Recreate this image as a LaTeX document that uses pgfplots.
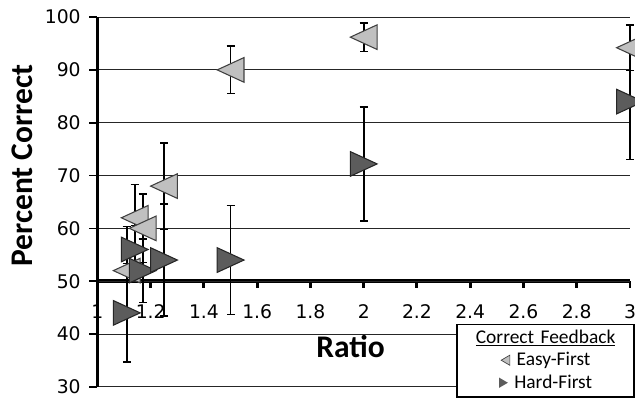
\documentclass[border=0pt]{standalone}
\usepackage{pgfplots}
\pgfplotsset{compat=1.18}
\usepackage{fontspec}
\setmainfont{Carlito}
\newfontfamily\dejavu{DejaVu Sans}
\newfontfamily\carlito{Carlito}
\definecolor{easyfill}{RGB}{192,192,192}
\definecolor{easydraw}{RGB}{64,64,64}
\definecolor{hardfill}{RGB}{92,92,92}
\definecolor{harddraw}{RGB}{38,38,38}
\pgfdeclareplotmark{ltri}{%
  \pgfpathmoveto{\pgfqpoint{-10pt}{0pt}}%
  \pgfpathlineto{\pgfqpoint{10pt}{9.2pt}}%
  \pgfpathlineto{\pgfqpoint{10pt}{-9.2pt}}%
  \pgfpathclose\pgfusepathqfillstroke}
\pgfdeclareplotmark{rtri}{%
  \pgfpathmoveto{\pgfqpoint{10pt}{0pt}}%
  \pgfpathlineto{\pgfqpoint{-10pt}{9.2pt}}%
  \pgfpathlineto{\pgfqpoint{-10pt}{-9.2pt}}%
  \pgfpathclose\pgfusepathqfillstroke}
\pgfplotstableread{
x y e
1.11 52 8.4
1.14 62 6.3
1.17 60 6.5
1.25 68 8.2
1.5 90 4.5
2 96.2 2.7
3 94.2 4.3
}\easy
\pgfplotstableread{
x y e
1.11 44 9.3
1.14 56 4.5
1.17 52 6
1.25 54 10.6
1.5 54 10.3
2 72.2 10.8
3 84 11
}\hard
\begin{document}
\begin{tikzpicture}
\useasboundingbox (-72.75pt,-9.75pt) rectangle (401.25pt,288.75pt);
\clip (-72.75pt,-9.75pt) rectangle (401.25pt,288.75pt);
% x axis drawn at y = 50
\begin{axis}[
  scale only axis, at={(0pt,78.857pt)}, anchor=south west,
  width=397.5pt, height=197.143pt,
  xmin=1, xmax=3, ymin=50, ymax=100,
  axis y line=none, axis x line*=bottom,
  x axis line style={line width=3pt, black},
  xtick={1,1.2,1.4,1.6,1.8,2,2.2,2.4,2.6,2.8,3},
  xticklabels={1,1.2,1.4,1.6,1.8,2,2.2,2.4,2.6,2.8,3},
  tick align=outside, major tick length=5pt,
  x tick style={line width=2.2pt, black},
  xticklabel style={font=\dejavu\fontsize{14}{16}\selectfont, yshift=-9pt},
  /pgf/number format/assume math mode=true,
]
\addplot[draw=none, forget plot] coordinates {(1,60)};
\end{axis}
\begin{axis}[
  scale only axis, at={(0pt,0pt)}, anchor=south west,
  width=397.5pt, height=276pt,
  xmin=1, xmax=3, ymin=30, ymax=100,
  axis x line=none, axis y line*=left,
  y axis line style={line width=1.6pt, black},
  ytick={30,40,50,60,70,80,90,100},
  tick align=outside, major tick length=6pt,
  y tick style={line width=1.2pt, black},
  yticklabel style={font=\dejavu\fontsize{14}{16}\selectfont, xshift=-3pt},
  /pgf/number format/assume math mode=true,
  ymajorgrids, grid style={line width=0.7pt, black!85},
  clip=false,
  legend style={draw=black, line width=1.4pt, fill=white,
    at={(rel axis cs:1.0094,0.171)}, anchor=north east,
    inner sep=2pt, row sep=0pt,
    nodes={inner sep=1pt, text width=126pt, align=center,
      text height=11pt, text depth=3.8pt,
      font=\carlito\fontsize{14.5}{16}\selectfont},
    /tikz/every even column/.append style={column sep=0pt},
    /tikz/every odd column/.append style={column sep=0pt}},
  legend cell align=center,
  error bars/error bar style={line width=1.2pt, black},
  error bars/error mark options={mark size=3pt, line width=1.1pt, black, rotate=90},
]
\addplot[forget plot, only marks, mark=ltri, mark options={fill=easyfill, draw=easydraw, line width=0.8pt},
  error bars/.cd, y dir=both, y explicit] table[x=x, y=y, y error=e] {\easy};
\addplot[forget plot, only marks, mark=rtri, mark options={fill=hardfill, draw=harddraw, line width=0.8pt},
  error bars/.cd, y dir=both, y explicit] table[x=x, y=y, y error=e] {\hard};
\addlegendimage{empty legend}
\addlegendentry{\underline{Correct Feedback}}
\addlegendimage{empty legend}
\addlegendentry{\tikz[baseline=-0.6ex]\draw[fill=easyfill, draw=easydraw, line width=0.5pt] (0,0) -- (6.5pt,3.8pt) -- (6.5pt,-3.8pt) -- cycle; Easy-First}
\addlegendimage{empty legend}
\addlegendentry{\tikz[baseline=-0.6ex]\fill[hardfill] (0,3.8pt) -- (6.5pt,0) -- (0,-3.8pt) -- cycle; Hard-First}
\end{axis}
\node[font=\carlito\bfseries\fontsize{23.5}{26}\selectfont, anchor=base] at (189pt,21.75pt) {Ratio};
\node[font=\carlito\bfseries\fontsize{23.5}{26}\selectfont, anchor=base, rotate=90] at (-48.75pt,165pt) {Percent Correct};
\end{tikzpicture}
\end{document}
